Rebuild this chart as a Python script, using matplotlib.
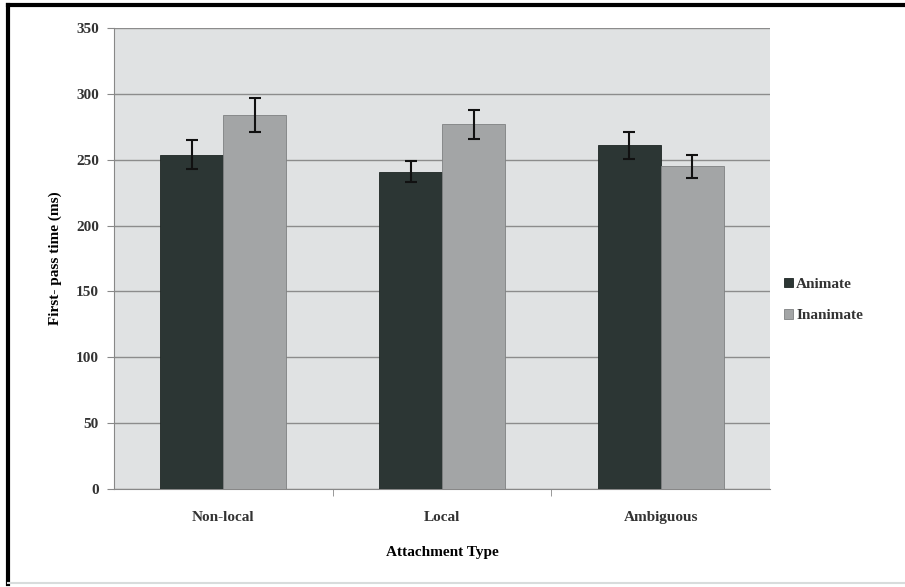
import matplotlib.pyplot as plt
import numpy as np
from matplotlib.lines import Line2D

plt.rcParams['font.family'] = ['Liberation Serif', 'DejaVu Serif']

# data
categories = ['Non-local', 'Local', 'Ambiguous']
animate = [254, 241, 261]
inanimate = [284, 277, 245]
animate_err = [11, 8, 10]
inanimate_err = [13, 11, 9]

fig = plt.figure(figsize=(9.05, 5.87), dpi=100)
ax = fig.add_axes([0.126, 0.167, 0.725, 0.785])
ax.set_facecolor('#e0e2e3')

x = np.arange(len(categories))
w = 0.288
ax.bar(x - w / 2, animate, width=w, color='#2c3634', edgecolor='#1e2624',
       linewidth=0.6, label='Animate', zorder=3)
ax.bar(x + w / 2, inanimate, width=w, color='#a3a5a6', edgecolor='#7f8182',
       linewidth=0.6, label='Inanimate', zorder=3)
ax.errorbar(x - w / 2, animate, yerr=animate_err, fmt='none', ecolor='#111111',
            elinewidth=1.5, capsize=4, capthick=1.5, zorder=4)
ax.errorbar(x + w / 2, inanimate, yerr=inanimate_err, fmt='none', ecolor='#111111',
            elinewidth=1.5, capsize=4, capthick=1.5, zorder=4)

ax.set_xlim(-0.5, 2.5)
ax.set_ylim(0, 350)
ax.set_yticks(range(0, 351, 50))
ax.yaxis.grid(True, color='#8c8c8c', linewidth=1.0, zorder=1)
ax.set_xticks(x)
ax.set_xticklabels(categories, fontsize=11, fontweight='bold', color='#333333')
ax.set_xticks([0.5, 1.5], minor=True)
ax.tick_params(axis='x', which='major', length=0, pad=16)
ax.tick_params(axis='x', which='minor', length=5, color='#888888')
ax.tick_params(axis='y', length=5, color='#888888', labelsize=11, pad=6)
for lab in ax.get_yticklabels():
    lab.set_fontweight('bold')
    lab.set_color('#333333')

for s in ['top', 'right']:
    ax.spines[s].set_visible(False)
for s in ['left', 'bottom']:
    ax.spines[s].set_color('#888888')

ax.set_ylabel('First- pass time (ms)', fontsize=11, fontweight='bold', labelpad=10)
ax.set_xlabel('Attachment Type', fontsize=11, fontweight='bold', labelpad=16)

leg = ax.legend(loc='center left', bbox_to_anchor=(1.0, 0.41), frameon=False,
                fontsize=11, handlelength=0.6, handleheight=0.6, handletextpad=0.2,
                labelspacing=1.2, prop={'weight': 'bold', 'size': 11})
for t in leg.get_texts():
    t.set_color('#333333')

# outer frame (scanned: dark top/left, faint bottom/right)
fig.add_artist(Line2D([0.009, 0.999], [0.991, 0.991], transform=fig.transFigure,
                      color='black', linewidth=3))
fig.add_artist(Line2D([0.009, 0.009], [0.005, 0.991], transform=fig.transFigure,
                      color='black', linewidth=3))
fig.add_artist(Line2D([0.009, 0.999], [0.006, 0.006], transform=fig.transFigure,
                      color='#d8dcdc', linewidth=1.5))

fig.savefig('out.png', dpi=100)
